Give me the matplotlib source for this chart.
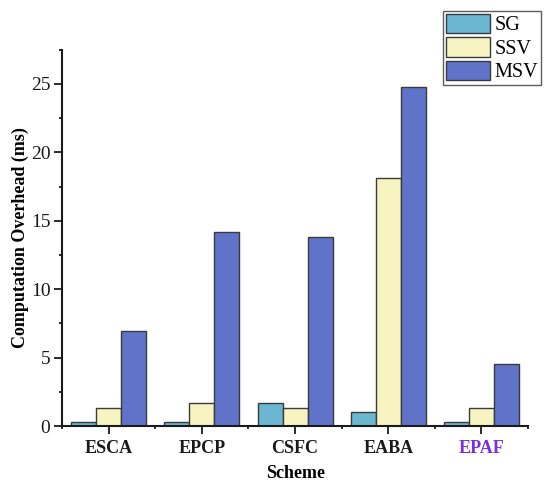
import matplotlib
matplotlib.use('Agg')
import matplotlib.pyplot as plt
import numpy as np
from matplotlib.ticker import MultipleLocator, FixedLocator

plt.rcParams['font.family'] = ['Liberation Serif', 'DejaVu Serif']

# computation overhead per scheme (ms)
schemes = ['ESCA', 'EPCP', 'CSFC', 'EABA', 'EPAF']
sg = [0.3, 0.3, 1.7, 1.0, 0.3]
ssv = [1.35, 1.7, 1.35, 18.1, 1.35]
msv = [6.95, 14.2, 13.85, 24.75, 4.5]

series = [('SG', sg, '#6bb7d1'), ('SSV', ssv, '#f7f4c2'), ('MSV', msv, '#5f74c8')]

fig = plt.figure(figsize=(5.5, 4.88), dpi=100)
ax = fig.add_axes([0.113, 0.127, 0.847, 0.771])

x = np.arange(len(schemes))
w = 0.268
for i, (name, vals, col) in enumerate(series):
    ax.bar(x + (i - 1) * w, vals, w, color=col, edgecolor='#3a3a3a',
           linewidth=1.0, label=name)

ax.set_xlim(-0.5, 4.5)
ax.set_ylim(0, 27.5)
ax.yaxis.set_major_locator(MultipleLocator(5))
ax.yaxis.set_minor_locator(MultipleLocator(2.5))
ax.set_xticks(x)
ax.xaxis.set_minor_locator(FixedLocator(np.arange(-0.5, 5, 1.0)))

for s in ['top', 'right']:
    ax.spines[s].set_visible(False)
for s in ['left', 'bottom']:
    ax.spines[s].set_linewidth(1.5)
    ax.spines[s].set_color('#1a1a1a')

ax.tick_params(which='major', direction='out', length=6, width=1.3,
               labelsize=14, colors='#1a1a1a', pad=2.5)
ax.tick_params(which='minor', direction='out', length=2.5, width=1.3,
               colors='#1a1a1a')
ax.set_xticklabels(schemes, fontweight='bold', fontsize=13)
ax.get_xticklabels()[-1].set_color('#7a2ee0')
ax.tick_params(axis='x', pad=4)

ax.set_xlabel('Scheme', fontweight='bold', fontsize=13, labelpad=6)
ax.set_ylabel('Computation Overhead (ms)', fontweight='bold', fontsize=13)
ax.yaxis.set_label_coords(-0.072, 0.5)

leg = ax.legend(loc='upper right', bbox_to_anchor=(1.028, 1.104),
                fontsize=14.5, frameon=True, fancybox=False,
                handlelength=2.2, handleheight=1.1, labelspacing=0.1,
                handletextpad=0.2, borderpad=0.15, borderaxespad=0.0)
leg.get_frame().set_edgecolor('#333333')
leg.get_frame().set_linewidth(1.0)

fig.savefig('out.png', dpi=100)
